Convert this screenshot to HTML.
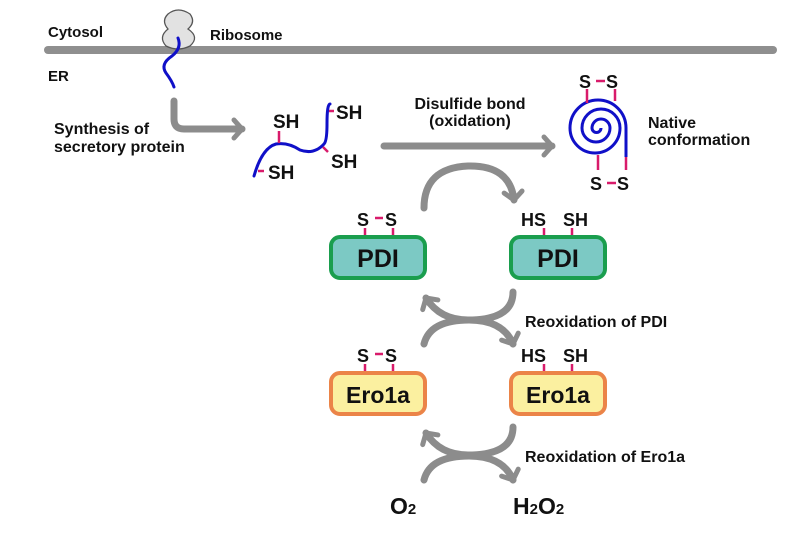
<!DOCTYPE html>
<html><head><meta charset="utf-8"><style>
body{margin:0;background:#fff}
svg text{font-family:"Liberation Sans","DejaVu Sans",sans-serif;font-weight:bold;fill:#111}
</style></head><body>
<svg width="800" height="530" viewBox="0 0 800 530" xmlns="http://www.w3.org/2000/svg">
<defs>
<marker id="ah" markerWidth="24" markerHeight="24" refX="12" refY="12" orient="auto" markerUnits="userSpaceOnUse" viewBox="0 0 24 24">
<path d="M4,3 L12,12 L4,21" fill="none" stroke="#8c8c8c" stroke-width="5" stroke-linecap="round" stroke-linejoin="round"/>
</marker>
</defs>
<line x1="48" y1="50" x2="773" y2="50" stroke="#8f8f8f" stroke-width="8" stroke-linecap="round"/>
<path d="M168,14 q10,-8 22,0 q6,8 -2,15 q12,8 2,17 q-12,6 -24,0 q-8,-9 2,-17 q-7,-8 0,-15z" fill="#e2e2e2" stroke="#555" stroke-width="1.3"/>
<path d="M178,38 q4,10 -6,18 q-12,8 -6,17 q6,8 8,14" fill="none" stroke="#1010c8" stroke-width="3" stroke-linecap="round"/>
<text x="48" y="37" font-size="15">Cytosol</text>
<text x="210" y="40" font-size="15">Ribosome</text>
<text x="48" y="81" font-size="15">ER</text>
<path d="M174,101 L174,119 q0,10 10,10 L242,129" fill="none" stroke="#8c8c8c" stroke-width="7" stroke-linecap="round" marker-end="url(#ah)"/>
<text x="54" y="134" font-size="16">Synthesis of</text>
<text x="54" y="152" font-size="16">secretory protein</text>
<path d="M254,176 q8,-28 22,-32 q12,-2 24,6 q14,5 24,-6 q3,-3 3,-20 q0,-20 3,-20" fill="none" stroke="#1010c8" stroke-width="3" stroke-linecap="round"/>
<g stroke="#d81b6b" stroke-width="2.5">
<line x1="279" y1="131" x2="279" y2="143"/><line x1="329" y1="111" x2="334" y2="111"/>
<line x1="323" y1="147" x2="328" y2="152"/><line x1="258" y1="171" x2="264" y2="171"/>
</g>
<text x="273" y="128" font-size="19">SH</text>
<text x="336" y="119" font-size="19">SH</text>
<text x="331" y="168" font-size="19">SH</text>
<text x="268" y="179" font-size="19">SH</text>
<text x="470" y="109" font-size="16" text-anchor="middle">Disulfide bond</text>
<text x="470" y="126" font-size="16" text-anchor="middle">(oxidation)</text>
<line x1="384" y1="146" x2="552" y2="146" stroke="#8c8c8c" stroke-width="7" stroke-linecap="round" marker-end="url(#ah)"/>
<path d="M626,157 L626,128 A28,28 0 0 0 570,128 A25,25 0 0 0 620,128 A19,19 0 0 0 582,128 A14,14 0 0 0 610,128 A9,9 0 0 0 592,128 A4.5,4.5 0 0 0 601,128" fill="none" stroke="#1010c8" stroke-width="3"/>
<g stroke="#d81b6b" stroke-width="2.5">
<line x1="587" y1="89" x2="587" y2="103"/><line x1="615" y1="89" x2="615" y2="101"/>
<line x1="598" y1="155" x2="598" y2="170"/><line x1="626" y1="157" x2="626" y2="170"/>
<line x1="596" y1="81" x2="605" y2="81"/><line x1="607" y1="183" x2="616" y2="183"/>
</g>
<text x="579" y="88" font-size="18">S</text><text x="606" y="88" font-size="18">S</text>
<text x="590" y="190" font-size="18">S</text><text x="617" y="190" font-size="18">S</text>
<text x="648" y="128" font-size="16">Native</text>
<text x="648" y="145" font-size="16">conformation</text>
<path d="M424,208 q0,-40 44,-42 q42,-1 46,34" fill="none" stroke="#8c8c8c" stroke-width="7" stroke-linecap="round" marker-end="url(#ah)"/>
<g stroke="#d81b6b" stroke-width="2.5">
<line x1="365" y1="228" x2="365" y2="237"/><line x1="393" y1="228" x2="393" y2="237"/><line x1="375" y1="218" x2="383" y2="218"/>
<line x1="544" y1="228" x2="544" y2="237"/><line x1="572" y1="228" x2="572" y2="237"/>
<line x1="365" y1="364" x2="365" y2="373"/><line x1="393" y1="364" x2="393" y2="373"/><line x1="375" y1="354" x2="383" y2="354"/>
<line x1="544" y1="364" x2="544" y2="373"/><line x1="572" y1="364" x2="572" y2="373"/>
</g>
<text x="357" y="226" font-size="18">S</text><text x="385" y="226" font-size="18">S</text>
<text x="521" y="226" font-size="18">HS</text><text x="563" y="226" font-size="18">SH</text>
<rect x="331" y="237" width="94" height="41" rx="9" fill="#7cc9c4" stroke="#1a9e4e" stroke-width="4"/>
<rect x="511" y="237" width="94" height="41" rx="9" fill="#7cc9c4" stroke="#1a9e4e" stroke-width="4"/>
<text x="378" y="267" font-size="25" text-anchor="middle">PDI</text>
<text x="558" y="267" font-size="25" text-anchor="middle">PDI</text>
<path d="M513,292 q0,28 -45,28 q-28,0 -42,-22" fill="none" stroke="#8c8c8c" stroke-width="7" stroke-linecap="round" marker-end="url(#ah)"/>
<path d="M424,344 q6,-24 45,-24 q34,0 44,24" fill="none" stroke="#8c8c8c" stroke-width="7" stroke-linecap="round" marker-end="url(#ah)"/>
<text x="525" y="327" font-size="16">Reoxidation of PDI</text>
<text x="357" y="362" font-size="18">S</text><text x="385" y="362" font-size="18">S</text>
<text x="521" y="362" font-size="18">HS</text><text x="563" y="362" font-size="18">SH</text>
<rect x="331" y="373" width="94" height="41" rx="9" fill="#fbf0a0" stroke="#eb8448" stroke-width="4"/>
<rect x="511" y="373" width="94" height="41" rx="9" fill="#fbf0a0" stroke="#eb8448" stroke-width="4"/>
<text x="378" y="403" font-size="23" text-anchor="middle">Ero1a</text>
<text x="558" y="403" font-size="23" text-anchor="middle">Ero1a</text>
<path d="M513,427 q0,28 -45,28 q-28,0 -42,-22" fill="none" stroke="#8c8c8c" stroke-width="7" stroke-linecap="round" marker-end="url(#ah)"/>
<path d="M424,480 q6,-24 45,-24 q34,0 44,24" fill="none" stroke="#8c8c8c" stroke-width="7" stroke-linecap="round" marker-end="url(#ah)"/>
<text x="525" y="462" font-size="16">Reoxidation of Ero1a</text>
<text x="390" y="514" font-size="23">O<tspan font-size="15">2</tspan></text>
<text x="513" y="514" font-size="23">H<tspan font-size="15">2</tspan>O<tspan font-size="15">2</tspan></text>
</svg>
</body></html>
